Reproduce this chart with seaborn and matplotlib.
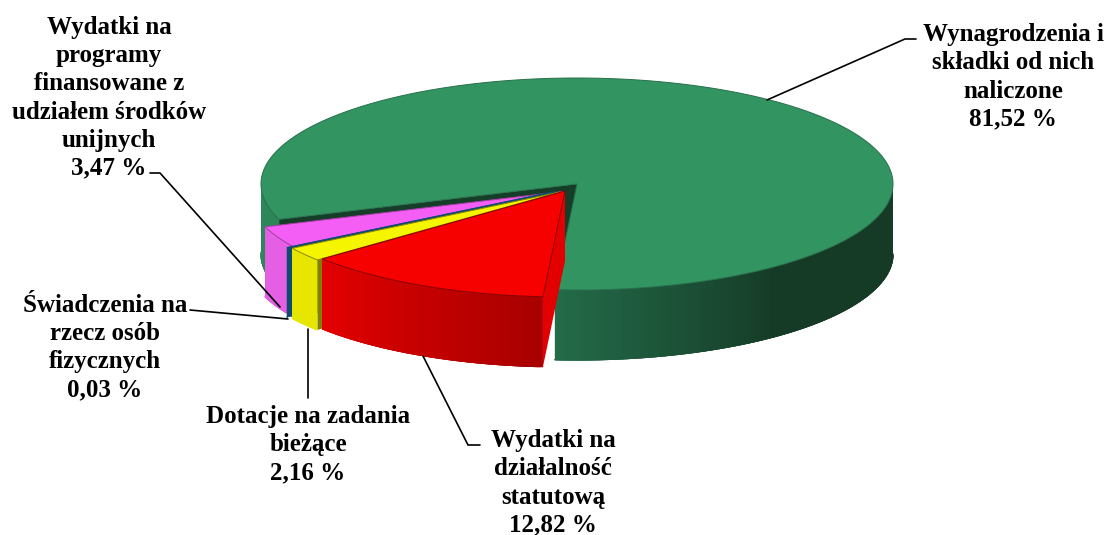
import numpy as np
import matplotlib.pyplot as plt
import seaborn as sns

# Shares in percent, order follows the pie going round from the bottom
names = ["Wydatki na\ndziałalność\nstatutową", "Dotacje na zadania\nbieżące",
         "Świadczenia na\nrzecz osób\nfizycznych",
         "Wydatki na\nprogramy\nfinansowane z\nudziałem środków\nunijnych",
         "Wynagrodzenia i\nskładki od nich\nnaliczone"]
shares = [12.82, 2.16, 0.03, 3.47, 81.52]
share_text = ["12,82 %", "2,16 %", "0,03 %", "3,47 %", "81,52 %"]

# Pie layout in pixels
cx, cy = 577, 184
rx, ry = 316, 106
depth = 70
start_angle = 94
explode = [(-12, 7), (-17, 8), (-22, 7), (-14, 7.5), (0, 0)]

top_col = ["#f60000", "#f5f500", "#0f4a72", "#f55ef5", "#329460"]
cut_col = ["#e20000", "#7f7f00", "#0f4a72", "#c850c8", "#153d28"]
edge_col = ["#8a0000", "#8a8a00", "none", "#a040a0", "#27704c"]

label_pos = [(553, 483), (308, 445), (105, 347.5), (109, 98), (1013, 77)]
leaders = [
    [(480, 445), (468, 445), (423, 356)],
    [(308, 398), (308, 329)],
    [(190, 310), (288, 319)],
    [(150, 173), (160, 173), (280, 307)],
    [(916, 39), (905, 39), (767, 100)],
]

sns.set_theme(style="white")
plt.rcParams["font.family"] = ["Liberation Serif", "DejaVu Serif"]

fig, ax = plt.subplots(figsize=(11.09, 5.35), dpi=100)
ax.set_position([0, 0, 1, 1])
ax.set_xlim(0, 1109)
ax.set_ylim(535, 0)
ax.axis("off")

red_ramp = sns.blend_palette(["#a80000", "#e40000"], 101)
green_ramp = sns.blend_palette(["#153a26", "#236b49"], 101)


def wall_color(i, t):
    t = t % 360
    if i == 0:
        return red_ramp[int(np.clip((t - 94) / 46, 0, 1) * 100)]
    if i == 1:
        return "#e6e600"
    if i == 2:
        return "#0f4a72"
    if i == 3:
        return "#e45fe4"
    # green rim: light on the left, dark from the middle to the right
    if t > 120:
        return "#2c865a"
    return green_ramp[int(np.clip((t - 50) / 44, 0, 1) * 100)]


def draw_slice(i, a0, a1):
    ox, oy = cx + explode[i][0], cy + explode[i][1]
    ts = np.linspace(a0, a1, max(int((a1 - a0) * 2), 2) + 1)
    xs = ox + rx * np.cos(np.radians(ts))
    ys = oy + ry * np.sin(np.radians(ts))

    # flat cut walls first, they sit behind the top face
    for k in [0, -1]:
        ax.fill([ox, xs[k], xs[k], ox], [oy, ys[k], ys[k] + depth, oy + depth],
                color=cut_col[i], lw=0, zorder=order[i])

    # rim, only the part facing the viewer; each piece overlaps the next so no seams show
    for j in range(len(ts) - 1):
        mid = (ts[j] + ts[j + 1]) / 2
        if np.sin(np.radians(mid)) < 0:
            continue
        e = min(j + 3, len(ts) - 1)
        ax.fill([xs[j], xs[e], xs[e], xs[j]],
                [ys[j], ys[e], ys[e] + depth, ys[j] + depth],
                color=wall_color(i, mid), lw=0, zorder=order[i])
        # the chord cuts the curve a little, so cover the bottom edge too
        ax.plot(xs[j:e + 1], ys[j:e + 1] + depth, color=wall_color(i, mid), lw=0.8,
                zorder=order[i])

    ax.fill(np.r_[ox, xs], np.r_[oy, ys], facecolor=top_col[i],
            edgecolor=edge_col[i], lw=0.7, zorder=order[i] + 0.5)


# back to front: green, pink, navy, yellow, red
order = {4: 1, 3: 2, 2: 3, 1: 4, 0: 5}
bounds = start_angle + np.r_[0, np.cumsum(shares)] * 3.6
for i in [4, 3, 2, 1, 0]:
    draw_slice(i, bounds[i], bounds[i + 1])

for line in leaders:
    px, py = zip(*line)
    ax.plot(px, py, color="black", lw=1.2, zorder=8, solid_joinstyle="miter")

for name, val, (lx, ly) in zip(names, share_text, label_pos):
    ax.text(lx, ly, name + "\n" + val, ha="center", va="center", fontsize=18,
            fontweight="bold", color="black", linespacing=1.28, zorder=9)

fig.savefig("out.png", dpi=100, facecolor="white")
plt.close(fig)
